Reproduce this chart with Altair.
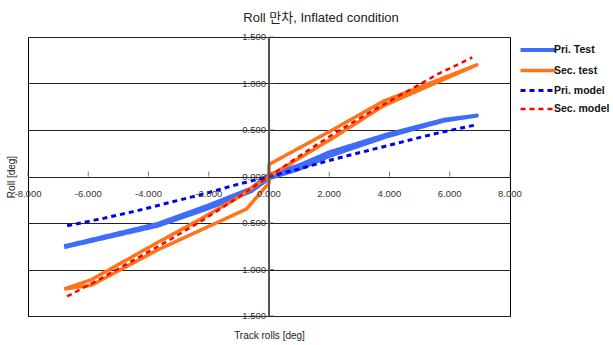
import altair as alt
import pandas as pd

series_names = ["Pri. Test", "Sec. test", "Pri. model", "Sec. model"]
series_colors = ["#3F6DF7", "#FF7418", "#0000F0", "#FF0000"]
series_dash = [[1, 0], [1, 0], [5, 4], [5, 4]]
series_width = [4, 2.5, 3, 3]

pri_test_x = [-6.8, -3.7, -2.0, -0.6, 0.0, 1.0, 2.0, 3.9, 5.8, 6.9, 5.8, 3.9, 2.0, 1.0, 0.0, -0.6, -2.0, -3.7, -6.8]
pri_test_y = [-0.76, -0.53, -0.34, -0.16, -0.02, 0.08, 0.22, 0.43, 0.60, 0.655, 0.61, 0.45, 0.26, 0.12, 0.02, -0.13, -0.31, -0.51, -0.75]

sec_test_x = [-6.8, -5.9, -3.7, -0.75, 0.0, 0.0, 2.1, 3.8, 6.9, 3.8, 2.1, 0.0, -1.0, -2.4, -3.7, -5.9, -6.8]
sec_test_y = [-1.21, -1.17, -0.79, -0.35, -0.07, 0.13, 0.50, 0.81, 1.20, 0.76, 0.41, 0.0, -0.22, -0.48, -0.71, -1.11, -1.21]

pri_model_x = [-6.7, -5.5, -4.4, -3.3, -2.2, -1.1, 0.0, 1.1, 2.2, 3.3, 4.4, 5.5, 6.8]
pri_model_y = [-0.53, -0.45, -0.37, -0.28, -0.19, -0.09, 0.0, 0.09, 0.19, 0.28, 0.37, 0.46, 0.55]

sec_model_x = [-6.7, -5.6, -4.5, -3.4, -2.2, -1.1, 0.0, 1.1, 2.2, 3.4, 4.5, 5.6, 6.75]
sec_model_y = [-1.29, -1.10, -0.90, -0.70, -0.47, -0.24, 0.0, 0.24, 0.47, 0.70, 0.90, 1.10, 1.28]

x_ticks = [-8, -6, -4, -2, 0, 2, 4, 6, 8]
x_tick_labels = ["-8.000", "-6.000", "-4.000", "-2.000", "0.000", "2.000", "4.000", "6.000", "8.000"]
y_ticks = [-1.5, -1.0, -0.5, 0.0, 0.5, 1.0, 1.5]
y_tick_labels = ["-1.500", "-1.000", "-0.500", "0.000", "0.500", "1.000", "1.500"]

rows = []
for name, xs_, ys_ in [
    ("Pri. Test", pri_test_x, pri_test_y),
    ("Sec. test", sec_test_x, sec_test_y),
    ("Pri. model", pri_model_x, pri_model_y),
    ("Sec. model", sec_model_x, sec_model_y),
]:
    for i, (a, b) in enumerate(zip(xs_, ys_)):
        rows.append({"series": name, "x": a, "y": b, "i": i})
df = pd.DataFrame(rows)

xdf = pd.DataFrame({"v": x_ticks, "label": x_tick_labels})
ydf = pd.DataFrame({"v": y_ticks, "label": y_tick_labels})

FONT = "Liberation Sans, Arial, Noto Sans CJK KR"
xsc = alt.Scale(domain=[-8, 8], nice=False, zero=False)
ysc = alt.Scale(domain=[-1.5, 1.5], nice=False, zero=False)

xax = alt.Axis(
    title="Track rolls [deg]", labels=False, ticks=False, domain=False,
    grid=False, titleFontSize=10, titleFont=FONT, titleFontWeight="normal",
    titleColor="#222", titlePadding=14)
yax = alt.Axis(
    title="Roll [deg]", labels=False, ticks=False, domain=False,
    grid=True, gridColor="#222", gridWidth=1, gridOpacity=1, values=y_ticks,
    titleFontSize=10, titleFont=FONT, titleFontWeight="normal",
    titleColor="#222", titlePadding=12)

leg = alt.Legend(
    title=None, orient="none", legendX=499, legendY=2,
    symbolType="M-2,0H2", symbolSize=306, labelFontSize=10.5,
    labelFontWeight="bold", labelFont=FONT, labelColor="#111",
    labelOffset=5, rowPadding=2,
)

lines = alt.Chart(df).mark_line(strokeCap="butt", strokeJoin="round").encode(
    x=alt.X("x:Q", scale=xsc, axis=xax),
    y=alt.Y("y:Q", scale=ysc, axis=yax),
    color=alt.Color("series:N", scale=alt.Scale(domain=series_names, range=series_colors), legend=leg),
    strokeDash=alt.StrokeDash("series:N", scale=alt.Scale(domain=series_names, range=series_dash), legend=leg),
    strokeWidth=alt.StrokeWidth("series:N", scale=alt.Scale(domain=series_names, range=series_width), legend=leg),
    order="i:Q",
)

zero_rule = alt.Chart(xdf).mark_rule(color="#555", strokeWidth=1.5).encode(
    x=alt.datum(0, scale=xsc, axis=xax)
)

xticks_m = alt.Chart(xdf).mark_tick(orient="vertical", size=5, thickness=1, color="#444", yOffset=-2.5).encode(
    x=alt.X("v:Q", scale=xsc, axis=xax), y=alt.datum(0, scale=ysc, axis=yax)
)
yticks_m = alt.Chart(ydf).mark_tick(orient="horizontal", size=5, thickness=1, color="#444", xOffset=2.5).encode(
    y=alt.Y("v:Q", scale=ysc, axis=yax), x=alt.datum(0, scale=xsc, axis=xax)
)

xlabels = alt.Chart(xdf).mark_text(font=FONT, fontSize=9.5, color="#333", baseline="middle", align="center", dy=17).encode(
    x=alt.X("v:Q", scale=xsc, axis=xax), y=alt.datum(0, scale=ysc, axis=yax), text="label:N"
)
ylabels = alt.Chart(ydf).mark_text(font=FONT, fontSize=9.5, color="#333", baseline="middle", align="right", dx=-3).encode(
    y=alt.Y("v:Q", scale=ysc, axis=yax), x=alt.datum(0, scale=xsc, axis=xax), text="label:N"
)

chart = alt.layer(lines, zero_rule, xticks_m, yticks_m, xlabels, ylabels).properties(
    width=482, height=279,
    autosize=alt.AutoSizeParams(type="none"),
    padding={"left": 28, "top": 37, "right": 103, "bottom": 29},
    background="white",
    title=alt.TitleParams("Roll 만차, Inflated condition", font=FONT, fontSize=13,
                          fontWeight="normal", color="#222", anchor="middle", dx=52, offset=7),
).configure_view(stroke="#000", strokeWidth=1)

chart.save("out.html", embed_options={"renderer": "svg", "actions": False})
